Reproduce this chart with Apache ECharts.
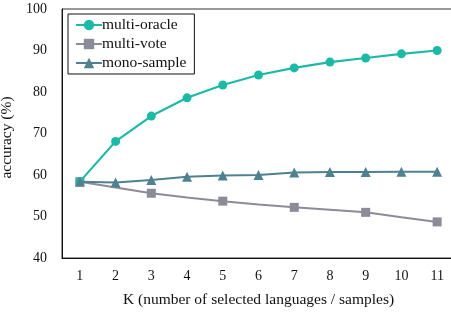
<!DOCTYPE html>
<html>
<head>
<meta charset="utf-8">
<script src="https://cdn.jsdelivr.net/npm/echarts@6/dist/echarts.min.js"></script>
<style>
  html, body { margin: 0; padding: 0; background: #fff; }
  #chart { width: 451px; height: 312px; }
</style>
</head>
<body>
<div id="chart"></div>
<script>
// K 取值（横轴）
const kLabels = ['1', '2', '3', '4', '5', '6', '7', '8', '9', '10', '11'];
// 三条曲线的数据，从图上读出来的
const multiOracle = [58.4, 68.1, 74.2, 78.6, 81.7, 84.1, 85.8, 87.2, 88.2, 89.2, 90.0];
const multiVote = [58.4, 57.0, 55.6, 54.6, 53.7, 52.9, 52.2, 51.6, 51.0, 49.8, 48.7];
const monoSample = [58.4, 58.2, 58.8, 59.6, 59.9, 60.0, 60.6, 60.7, 60.7, 60.8, 60.8];

const font = "'Liberation Serif', 'Times New Roman', serif";

let chart = echarts.init(document.getElementById('chart'), null, { renderer: 'canvas' });

let option = {
    backgroundColor: '#fff',
    textStyle: { fontFamily: font, color: '#111' },
    grid: {
        left: 62,
        right: -4,
        top: 9,
        bottom: 54,
        outerBoundsMode: 'none',
        containLabel: false,
        show: true,
        borderColor: '#333',
        borderWidth: 1
    },
    legend: {
        orient: 'vertical',
        left: 68,
        top: 14,
        padding: [3, 8, 3, 7],
        itemGap: 3,
        itemWidth: 26,
        itemHeight: 13,
        borderColor: '#111',
        borderWidth: 1,
        textStyle: { fontFamily: font, fontSize: 15.5, color: '#111', padding: [0, 0, 0, -5] },
        data: ['multi-oracle', 'multi-vote', 'mono-sample']
    },
    xAxis: {
        type: 'category',
        data: kLabels,
        boundaryGap: true,
        name: 'K (number of selected languages / samples)',
        nameLocation: 'middle',
        nameGap: 34,
        nameTextStyle: { fontFamily: font, fontSize: 15.5, color: '#111' },
        axisLine: { lineStyle: { color: '#111', width: 1 } },
        axisTick: { show: false },
        axisLabel: { fontFamily: font, fontSize: 14, color: '#111', margin: 11 },
        splitLine: { show: false }
    },
    yAxis: {
        type: 'value',
        min: 40,
        max: 100,
        interval: 10,
        name: 'accuracy (%)',
        nameLocation: 'middle',
        nameGap: 37,
        nameTextStyle: { fontFamily: font, fontSize: 15.5, color: '#111', padding: [0, 8, 0, 0] },
        axisLine: { show: true, lineStyle: { color: '#111', width: 1 } },
        axisTick: { show: false },
        axisLabel: { fontFamily: font, fontSize: 14, color: '#111', margin: 15 },
        splitLine: { show: false }
    },
    series: [
        {
            name: 'multi-oracle',
            type: 'line',
            data: multiOracle,
            symbol: 'circle',
            symbolSize: 9,
            color: '#1cbaa6',
            lineStyle: { width: 2.2 },
            z: 3
        },
        {
            name: 'multi-vote',
            type: 'line',
            // 只在奇数 K 上画方块
            data: multiVote.map((v, i) => ({ value: v, symbol: i % 2 === 0 ? 'rect' : 'none' })),
            symbol: 'rect',
            symbolSize: 9,
            color: '#8b8c97',
            lineStyle: { width: 2 },
            z: 2
        },
        {
            name: 'mono-sample',
            type: 'line',
            data: monoSample,
            symbol: 'triangle',
            symbolSize: 10,
            color: '#4f8191',
            lineStyle: { width: 2 },
            z: 4
        }
    ]
};

chart.setOption(option);
</script>
</body>
</html>
